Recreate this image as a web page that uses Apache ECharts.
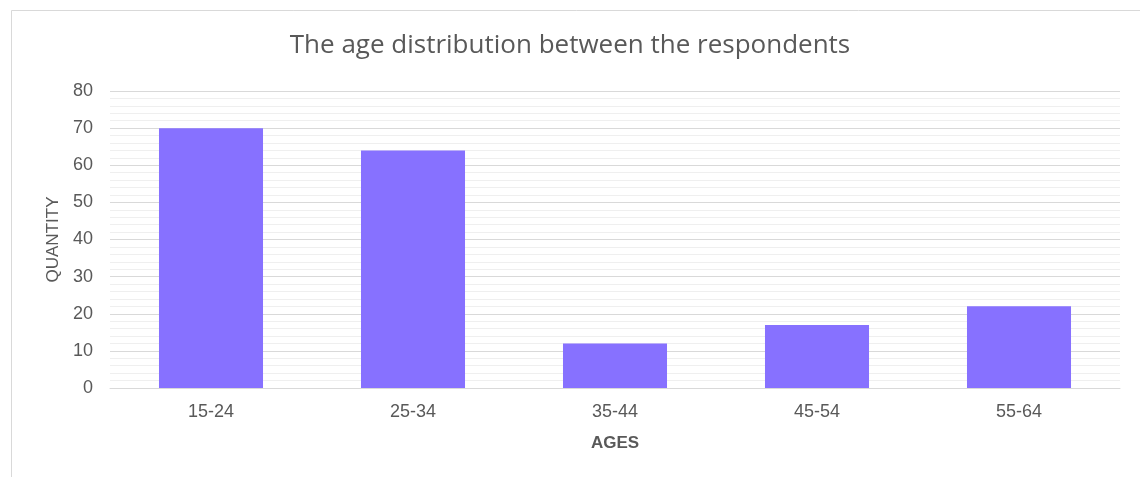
<!DOCTYPE html>
<html><head><meta charset="utf-8">
<script src="https://cdn.jsdelivr.net/npm/echarts@6/dist/echarts.min.js"></script>
<style>html,body{margin:0;padding:0;background:#fff}#c{width:1140px;height:477px}</style>
</head><body><div id="c"></div>
<script>
const categories = ['15-24','25-34','35-44','45-54','55-64'];
const quantities = [70, 64, 12, 17, 22];
const titleText = 'The age distribution between the respondents';
const xName = 'AGES';
const yName = 'QUANTITY';

const chart = echarts.init(document.getElementById('c'), null, {renderer:'canvas'});
chart.setOption({
  animation:false,
  backgroundColor:'#fff',
  graphic:[{type:'rect', shape:{x:11.5,y:10.5,width:1200,height:600}, style:{fill:'none',stroke:'#d9d9d9',lineWidth:1}, z:-1}],
  title:{text:titleText,left:'center',top:28,textStyle:{fontFamily:'Open Sans',fontSize:26,fontWeight:'normal',color:'#595959'}},
  grid:{left:110,right:20,top:91,bottom:89},
  xAxis:{type:'category',data:categories,
    name:xName,nameLocation:'middle',nameGap:47,
    nameTextStyle:{fontFamily:'Liberation Sans',fontSize:17,fontWeight:'bold',color:'#595959'},
    axisLine:{lineStyle:{color:'#d9d9d9'}},axisTick:{show:false},
    axisLabel:{fontFamily:'Liberation Sans',fontSize:18,color:'#595959',margin:15}},
  yAxis:{type:'value',min:0,max:80,interval:10,
    name:yName,nameLocation:'middle',nameGap:47,nameRotate:90,
    nameTextStyle:{fontFamily:'Liberation Sans',fontSize:17,color:'#595959'},
    axisLine:{show:false},axisTick:{show:false},
    axisLabel:{fontFamily:'Liberation Sans',fontSize:18,color:'#595959',margin:17},
    splitLine:{lineStyle:{color:'#d9d9d9',width:1}},
    minorTick:{show:false,splitNumber:5},
    minorSplitLine:{show:true,lineStyle:{color:'#efefef',width:1}}},
  series:[{type:'bar',data:quantities,barWidth:'51.5%',
    itemStyle:{color:'#8771ff'}}]
});
</script></body></html>
